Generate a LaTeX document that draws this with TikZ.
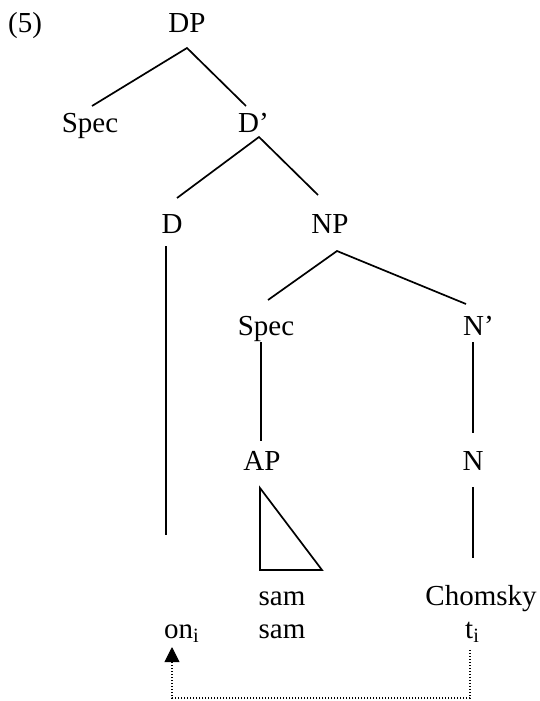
\documentclass[tikz,border=0pt]{standalone}
\usepackage{fontspec}
\setmainfont{Liberation Serif}
\usetikzlibrary{arrows.meta}
\begin{document}
\begin{tikzpicture}[x=1pt,y=-1pt,
  lbl/.style={inner sep=0pt,anchor=base,font=\fontsize{29}{33}\selectfont},
  lblw/.style={lbl,anchor=base west},
  edge/.style={line width=1.7pt},
  mv/.style={line width=1.4pt,dash pattern=on 1.4pt off 1.6pt}]
\useasboundingbox (0,0) rectangle (539,701);
% labels
\node[lblw] (ex) at (8,33) {(5)};
\node[lbl] (DP) at (187,33) {DP};
\node[lbl] (SpecD) at (90,132) {Spec};
\node[lblw] (Dbar) at (238,132) {D’};
\node[lbl] (D) at (172,233) {D};
\node[lbl] (NP) at (330,233) {NP};
\node[lbl] (SpecN) at (266,335) {Spec};
\node[lblw] (Nbar) at (463,335) {N’};
\node[lbl] (AP) at (262,470) {AP};
\node[lbl] (N) at (473,470) {N};
\node[lbl] (sam1) at (282,605) {sam};
\node[lbl] (sam2) at (282,638) {sam};
\node[lbl] (Chom) at (481,605) {Chomsky};
\node[lblw] (on) at (164,638) {on\textsubscript{i}};
\node[lblw] (t) at (465,638) {t\textsubscript{i}};
% attachment points
\coordinate (DPb) at (187,48);
\coordinate (SpecDt) at (92,106);
\coordinate (Dbart) at (246,106);
\coordinate (Dbarb) at (259,137);
\coordinate (Dt) at (177,198);
\coordinate (NPt) at (318,195);
\coordinate (NPb) at (337,251);
\coordinate (SpecNt) at (268,300);
\coordinate (Nbart) at (466,304);
\coordinate (SpecNb) at (261,342);
\coordinate (APt) at (261,441);
\coordinate (Nbarb) at (473,342);
\coordinate (Nt) at (473,433);
\coordinate (Db) at (166,246);
\coordinate (Dend) at (166,535);
\coordinate (tri1) at (260,488);
\coordinate (tri2) at (260,570);
\coordinate (tri3) at (322,570);
\coordinate (Nb) at (473,487);
\coordinate (Chomt) at (473,558);
\coordinate (tb) at (470,650);
\coordinate (onb) at (172,647);
\coordinate (onbase) at (172,662);
\coordinate (c1) at (470,698);
\coordinate (c2) at (172,698);
% edges
\draw[edge] (SpecDt) -- (DPb) -- (Dbart);
\draw[edge] (Dt) -- (Dbarb) -- (NPt);
\draw[edge] (SpecNt) -- (NPb) -- (Nbart);
\draw[edge] (SpecNb) -- (APt);
\draw[edge] (Nbarb) -- (Nt);
\draw[edge] (Db) -- (Dend);
\draw[edge,line join=miter] (tri1) -- (tri2) -- (tri3) -- cycle;
\draw[edge] (Nb) -- (Chomt);
\draw[mv] (tb) -- (c1) -- (c2) -- (onbase);
\draw[line width=1pt,-{Triangle[width=15pt,length=15pt]}] (onbase) -- (onb);
\end{tikzpicture}
\end{document}
